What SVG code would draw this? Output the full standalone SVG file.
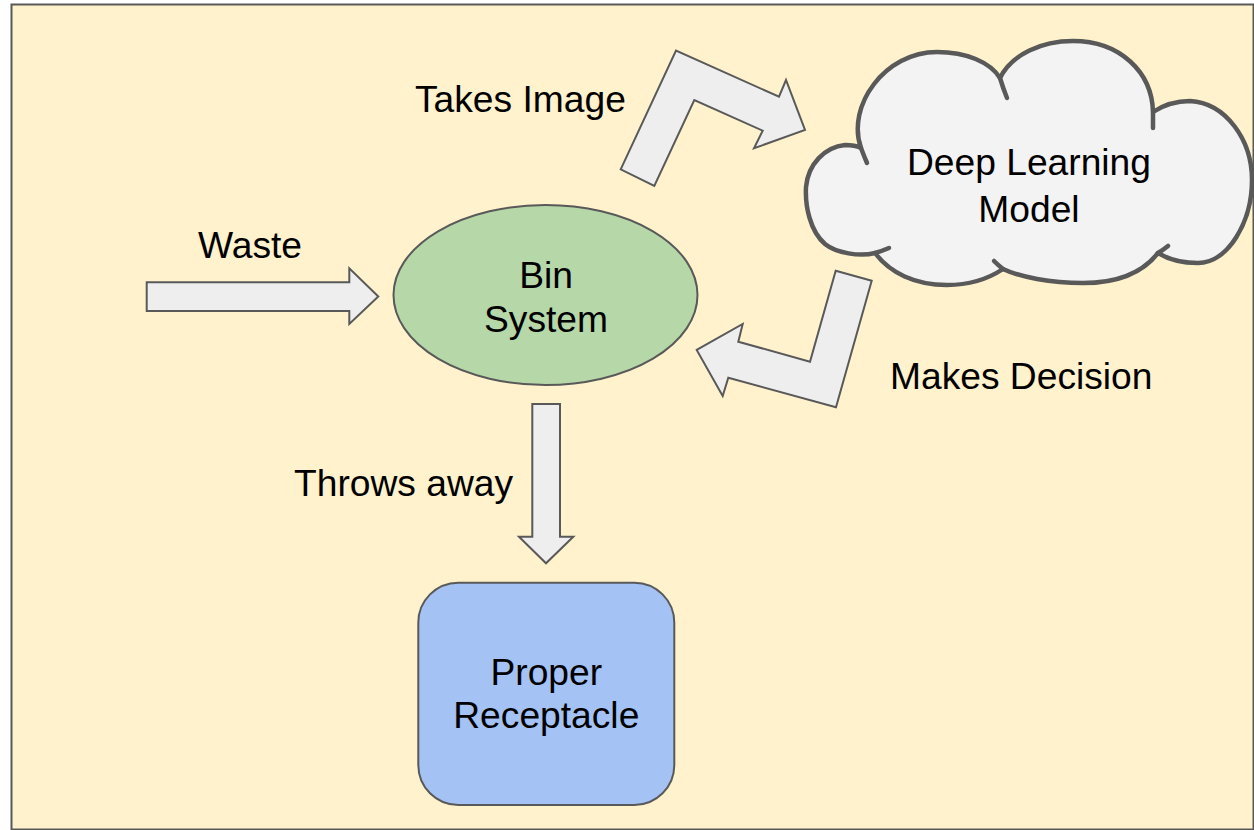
<svg xmlns="http://www.w3.org/2000/svg" width="1254" height="830" viewBox="0 0 1254 830">
  <style>
    .lbl { font-family: "Liberation Sans", Arial, sans-serif; font-size: 37.2px; fill: #000000; }
    .mid { text-anchor: middle; }
    .arrow { fill: #eeeeee; stroke: #595959; stroke-width: 2; stroke-linejoin: miter; }
    .cloud { fill: #f3f3f3; stroke: #595959; stroke-width: 4.5; stroke-linejoin: round; }
    .tick { fill: none; stroke: #595959; stroke-width: 4.5; stroke-linecap: round; }
  </style>

  <rect x="0" y="0" width="1254" height="830" fill="#ffffff"/>
  <!-- canvas -->
  <rect id="canvas" x="11.5" y="4.5" width="1242" height="825" fill="#fff2cc" stroke="#595959" stroke-width="2"/>

  <g id="connectors">
    <!-- Waste in -->
    <polygon class="arrow" points="146.7,282.3 349.3,282.3 349.3,268.3 378.3,296.5 349.3,324 349.3,311 146.7,311"/>
    <!-- Takes Image (bent) -->
    <polygon class="arrow" points="620.7,169.3 676,50.5 779,96.7 786,80 805,130 754,148.3 762.7,130.7 694.3,100 654.3,186"/>
    <!-- Makes Decision (bent) -->
    <polygon class="arrow" points="835.7,270.7 871.7,280.7 836,407.3 728.3,377.7 722.7,396 696.7,350 742.7,324 738.3,341.7 810,361.7"/>
    <!-- Throws away -->
    <polygon class="arrow" points="532.3,404 560,404 560,536.7 573.3,536.7 546,563.3 519,536.7 532.3,536.7"/>
  </g>

  <g id="label-waste"><text class="lbl" x="198" y="258.3">Waste</text></g>
  <g id="label-takes-image"><text class="lbl" x="415" y="111.7">Takes Image</text></g>
  <g id="label-makes-decision"><text class="lbl" x="890" y="389">Makes Decision</text></g>
  <g id="label-throws-away"><text class="lbl" x="294" y="496">Throws away</text></g>

  <g id="bin-system">
    <ellipse cx="545.5" cy="295" rx="152" ry="90" fill="#b6d7a8" stroke="#595959" stroke-width="2"/>
    <text class="lbl mid" x="546" y="288.3">Bin</text>
    <text class="lbl mid" x="546" y="331.7">System</text>
  </g>

  <g id="deep-learning-model">
    <path class="cloud" d="M861,148
      C846,106 885,52 937,52 C966,52 990,62 1000,78
      C1012,54 1042,41 1073,41 C1120,41 1152,72 1153,112
      C1165,104 1178,101 1190,101 C1226,103 1252,140 1252,180 C1252,222 1228,263 1198,263 C1183,263 1168,259 1158,253
      C1140,276 1112,283 1083,283 C1050,283 1020,277 1003,269
      C985,281 965,285 947,285 C915,285 890,273 875,253
      C860,257 836,253 825,244 C810,231 805,206 806,187 C808,164 825,147 845,145 C852,145 857,146 861,148 Z"/>
    <path class="tick" d="M861,148 Q864,156 867,163"/>
    <path class="tick" d="M1000,78 Q1003,88 1007,98"/>
    <path class="tick" d="M1153,112 L1153,128"/>
    <path class="tick" d="M1158,253 Q1163,250 1168,246"/>
    <path class="tick" d="M1003,269 Q998,265 994,261"/>
    <path class="tick" d="M875,253 Q882,251 889,248"/>
    <text class="lbl mid" x="1029" y="175">Deep Learning</text>
    <text class="lbl mid" x="1029" y="221.7">Model</text>
  </g>

  <g id="proper-receptacle">
    <rect x="418.3" y="582.7" width="256" height="222.3" rx="40" ry="40" fill="#a4c2f4" stroke="#595959" stroke-width="2"/>
    <text class="lbl mid" x="546.3" y="685">Proper</text>
    <text class="lbl mid" x="546.3" y="728.3">Receptacle</text>
  </g>
</svg>
